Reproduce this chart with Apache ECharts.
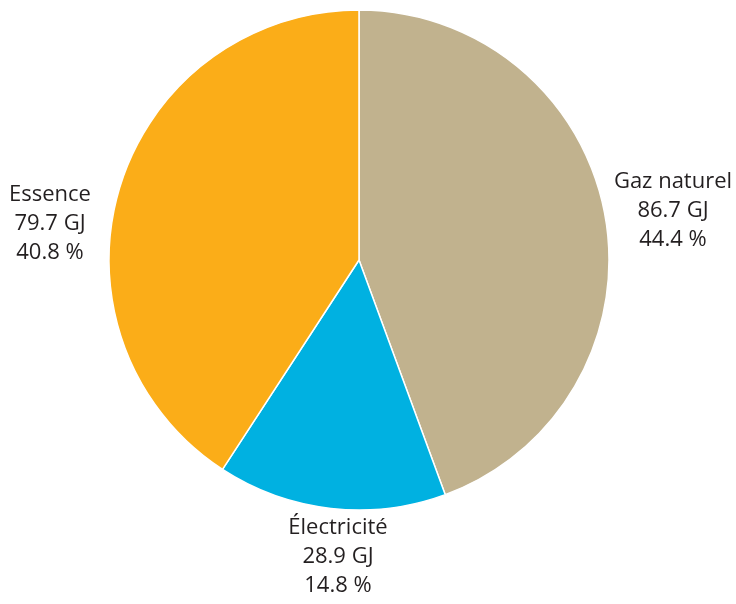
<!DOCTYPE html>
<html>
<head>
<meta charset="utf-8">
<script src="https://cdn.jsdelivr.net/npm/echarts@6/dist/echarts.min.js"></script>
<style>
  html, body { margin: 0; padding: 0; background: #fff; }
  #chart { width: 736px; height: 604px; }
</style>
</head>
<body>
<div id="chart"></div>
<script>
const categories = ['Gaz naturel', 'Électricité', 'Essence'];
const energyGJ = [86.7, 28.9, 79.7];
const shares = ['44.4', '14.8', '40.8'];
const colors = ['#C1B28E', '#00B1E1', '#FBAD18'];

// où placer chaque étiquette (centre du texte)
const labelSpots = [[673, 211], [338, 557], [50, 224]];

const chart = echarts.init(document.getElementById('chart'));

chart.setOption({
  animation: false,
  color: colors,
  series: [
    {
      type: 'pie',
      center: [359, 260],
      radius: 250,
      startAngle: 90,
      clockwise: true,
      data: categories.map((name, i) => ({ name: name, value: energyGJ[i] })),
      itemStyle: {
        borderColor: '#ffffff',
        borderWidth: 1.5
      },
      label: {
        show: true,
        position: 'outside',
        overflow: 'none',
        color: '#231F20',
        fontFamily: 'Open Sans',
        fontSize: 22,
        lineHeight: 29,
        align: 'center',
        formatter: (p) => `${p.name}\n${p.value.toFixed(1)} GJ\n${shares[p.dataIndex]} %`
      },
      labelLine: { show: false },
      labelLayout: (params) => ({
        x: labelSpots[params.dataIndex][0],
        y: labelSpots[params.dataIndex][1],
        align: 'center',
        verticalAlign: 'middle'
      }),
      emphasis: { disabled: true }
    }
  ]
});
</script>
</body>
</html>
